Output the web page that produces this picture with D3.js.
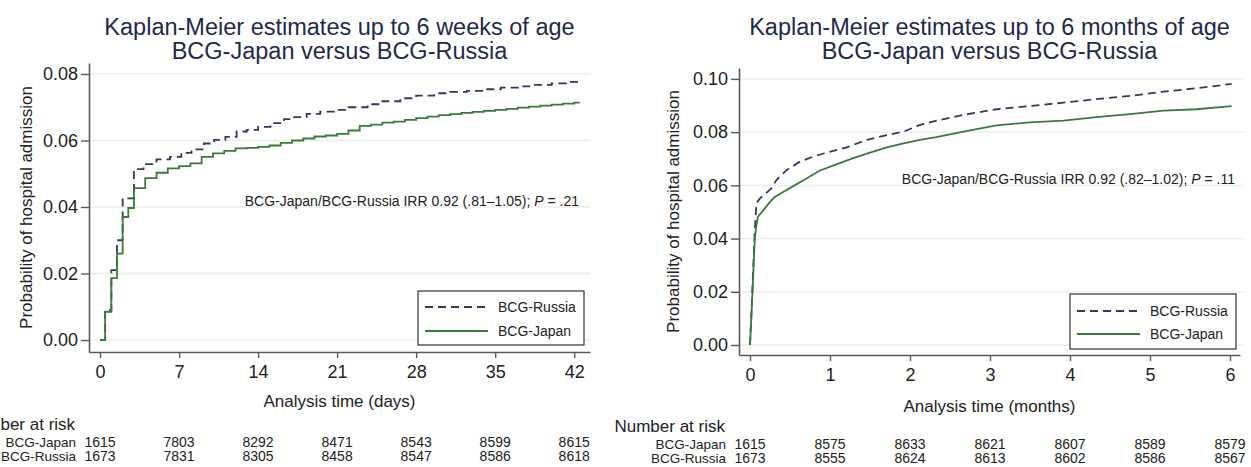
<!DOCTYPE html>
<html><head><meta charset="utf-8">
<script src="https://cdn.jsdelivr.net/npm/d3@7"></script>
<style>
body{margin:0;background:#fff}
svg{display:block}
text{font-family:"Liberation Sans",Arial,Helvetica,sans-serif}
</style>
</head><body>
<svg id="chart" width="1251" height="467"></svg>
<script>
// ---------- data ----------
const titleWeeks = ["Kaplan-Meier estimates up to 6 weeks of age", "BCG-Japan versus BCG-Russia"];
const titleMonths = ["Kaplan-Meier estimates up to 6 months of age", "BCG-Japan versus BCG-Russia"];
const seriesNames = ["BCG-Russia", "BCG-Japan"];
const yTitle = "Probability of hospital admission";
const xTitleDays = "Analysis time (days)";
const xTitleMonths = "Analysis time (months)";
const annotDays = ["BCG-Japan/BCG-Russia IRR 0.92 (.81\u20131.05); ", "P", " = .21"];
const annotMonths = ["BCG-Japan/BCG-Russia IRR 0.92 (.82\u20131.02); ", "P", " = .11"];

const daysTicks = [0, 7, 14, 21, 28, 35, 42];
const daysYTicks = [0, 0.02, 0.04, 0.06, 0.08];
const monthsTicks = [0, 1, 2, 3, 4, 5, 6];
const monthsYTicks = [0, 0.02, 0.04, 0.06, 0.08, 0.10];

// [time, probability]
const daysJapan = [[0,0],[0.45,0.0085],[1,0.0186],[1.5,0.026],[2,0.037],[2.5,0.0397],[3,0.0457],[4,0.0487],[5,0.0503],[6,0.0516],[7,0.0523],[8,0.0531],[9,0.0551],[10,0.0561],[11,0.0569],[12,0.0576],[13,0.0578],[14,0.0581],[15,0.0585],[16,0.0593],[17,0.06],[18,0.0606],[19,0.0612],[20,0.0615],[21,0.062],[22,0.063],[23,0.0644],[24,0.0648],[25,0.0654],[26,0.0657],[27,0.0662],[28,0.0667],[29,0.0672],[30,0.0676],[31,0.0679],[32,0.0683],[33,0.0686],[34,0.0689],[35,0.0692],[36,0.0695],[37,0.0699],[38,0.0702],[39,0.0705],[40,0.0708],[41,0.0711],[42,0.0714],[42.5,0.0714]];
const daysRussia = [[0,0],[0.45,0.009],[1,0.021],[1.5,0.030],[2,0.0426],[3,0.0514],[3.85,0.0529],[5,0.0543],[6.2,0.0551],[7.2,0.0563],[8.1,0.0573],[9.2,0.0591],[10.1,0.0602],[11.1,0.0611],[12.1,0.0627],[13,0.0632],[14,0.0641],[15.1,0.0652],[16.3,0.0664],[17.2,0.067],[18.3,0.068],[19.5,0.0687],[20.7,0.0692],[22,0.07],[23.7,0.0709],[25,0.0718],[26.6,0.0727],[28,0.0735],[29.6,0.0742],[31,0.0746],[32.5,0.0749],[34,0.0754],[35.5,0.0759],[37,0.0763],[38.4,0.0767],[40,0.0772],[41.3,0.0776],[42.5,0.0779]];
const monthsJapan = [[0,0],[0.015,0.009],[0.03,0.019],[0.045,0.03],[0.06,0.04],[0.08,0.045],[0.1,0.0482],[0.17,0.0508],[0.25,0.0538],[0.31,0.0556],[0.42,0.0576],[0.54,0.0597],[0.71,0.0627],[0.875,0.0656],[1.08,0.0679],[1.29,0.0702],[1.5,0.0723],[1.71,0.0743],[1.92,0.0758],[2.125,0.0771],[2.33,0.0781],[2.67,0.0802],[3.08,0.0825],[3.5,0.0837],[3.92,0.0843],[4.33,0.0856],[4.75,0.0868],[5.17,0.0881],[5.58,0.0886],[6.02,0.0898]];
const monthsRussia = [[0,0],[0.015,0.01],[0.03,0.021],[0.045,0.032],[0.06,0.043],[0.08,0.0533],[0.125,0.0551],[0.27,0.0589],[0.33,0.062],[0.46,0.0658],[0.625,0.0689],[0.79,0.0708],[0.96,0.0723],[1.21,0.0743],[1.46,0.0771],[1.71,0.0789],[1.92,0.0802],[2.125,0.0827],[2.33,0.0843],[2.67,0.0865],[3.08,0.0886],[3.5,0.0898],[3.92,0.0911],[4.33,0.0924],[4.75,0.0936],[5.17,0.0952],[5.58,0.0965],[6.02,0.0981]];

const riskLabel = "Number at risk";
const riskDaysJapan = [1615, 7803, 8292, 8471, 8543, 8599, 8615];
const riskDaysRussia = [1673, 7831, 8305, 8458, 8547, 8586, 8618];
const riskMonthsJapan = [1615, 8575, 8633, 8621, 8607, 8589, 8579];
const riskMonthsRussia = [1673, 8555, 8624, 8613, 8602, 8586, 8567];

// ---------- styles ----------
const C_RUS = "#323b58", C_JAP = "#3a7a3a", C_TITLE = "#1f2a4a", C_AXIS = "#5a5a5a", C_TEXT = "#222";
const svg = d3.select("#chart");

function panel(o) {
  const g = svg.append("g");
  const x = d3.scaleLinear().domain(o.xDomain).range(o.xRange);
  const y = d3.scaleLinear().domain(o.yDomain).range(o.yRange);
  const cx = (o.xRange[0] + o.xRange[1]) / 2;

  // title
  g.append("g").selectAll("text").data(o.title).join("text")
    .attr("x", cx).attr("y", (d, i) => o.titleY[i])
    .attr("text-anchor", "middle").attr("font-size", 23.5).attr("fill", C_TITLE)
    .text(d => d);

  // grid
  g.append("g").selectAll("line").data(o.yTicks).join("line")
    .attr("x1", o.xRange[0]).attr("x2", o.gridRight)
    .attr("y1", d => y(d)).attr("y2", d => y(d))
    .attr("stroke", "#ececec").attr("stroke-width", 1.3);

  // annotation
  const an = g.append("text").attr("x", o.annotX).attr("y", o.annotY)
    .attr("text-anchor", "end").attr("font-size", 14).attr("fill", C_TEXT);
  an.selectAll("tspan").data(o.annot).join("tspan")
    .attr("font-style", (d, i) => i === 1 ? "italic" : "normal").text(d => d);

  // curves
  const line = d3.line().x(d => x(d[0])).y(d => y(d[1])).curve(o.curve);
  g.append("path").datum(o.russia).attr("d", line).attr("fill", "none")
    .attr("stroke", C_RUS).attr("stroke-width", 1.8).attr("stroke-dasharray", "8,5");
  g.append("path").datum(o.japan).attr("d", line).attr("fill", "none")
    .attr("stroke", C_JAP).attr("stroke-width", 1.8);

  // axes
  const ya = g.append("g").attr("transform", `translate(${o.xRange[0]},0)`)
    .call(d3.axisLeft(y).tickValues(o.yTicks).tickFormat(d3.format(".2f"))
      .tickSize(8).tickSizeOuter(0).tickPadding(3));
  const xa = g.append("g").attr("transform", `translate(0,${o.yRange[0]})`)
    .call(d3.axisBottom(x).tickValues(o.xTicks).tickFormat(d3.format("d"))
      .tickSize(6).tickSizeOuter(0).tickPadding(7));
  [ya, xa].forEach(a => {
    a.select(".domain").attr("stroke", C_AXIS).attr("stroke-width", 1.6);
    a.selectAll(".tick line").attr("stroke", C_AXIS).attr("stroke-width", 1.4);
    a.selectAll(".tick text").attr("fill", C_TEXT).attr("font-size", 18)
      .attr("font-family", '"Liberation Sans",Arial,sans-serif');
  });

  // axis titles
  g.append("text").attr("x", cx).attr("y", o.xTitleY).attr("text-anchor", "middle")
    .attr("font-size", 17).attr("fill", C_TEXT).text(o.xTitle);
  g.append("text")
    .attr("transform", `translate(${o.yTitleX},${(o.yRange[0] + o.yRange[1]) / 2}) rotate(-90)`)
    .attr("text-anchor", "middle").attr("font-size", 17).attr("fill", C_TEXT).text(yTitle);

  // legend
  const L = o.legend;
  const lg = g.append("g");
  lg.append("rect").attr("x", L.x).attr("y", L.y).attr("width", L.w).attr("height", L.h)
    .attr("fill", "#fff").attr("stroke", "#333").attr("stroke-width", 1.2);
  const items = [{name: seriesNames[0], c: C_RUS, dash: "8,5"}, {name: seriesNames[1], c: C_JAP, dash: null}];
  items.forEach((it, i) => {
    const yy = L.y + L.rows[i];
    lg.append("line").attr("x1", L.x + 7).attr("x2", L.x + 70).attr("y1", yy).attr("y2", yy)
      .attr("stroke", it.c).attr("stroke-width", 1.8).attr("stroke-dasharray", it.dash);
    lg.append("text").attr("x", L.x + 80).attr("y", yy + 5).attr("font-size", 14)
      .attr("fill", C_TEXT).text(it.name);
  });

  // number at risk
  const x0 = x(o.xTicks[0]);
  g.append("text").attr("x", x0 - 25).attr("y", o.riskY[0]).attr("text-anchor", "end")
    .attr("font-size", 17).attr("fill", C_TEXT).text(riskLabel);
  [[seriesNames[1], o.riskJ], [seriesNames[0], o.riskR]].forEach((r, i) => {
    const yy = o.riskY[i + 1];
    g.append("text").attr("x", x0 - 24).attr("y", yy).attr("text-anchor", "end")
      .attr("font-size", 13.5).attr("fill", C_TEXT).text(r[0]);
    g.append("g").selectAll("text").data(r[1]).join("text")
      .attr("x", (d, k) => x(o.xTicks[k])).attr("y", yy).attr("text-anchor", "middle")
      .attr("font-size", 14).attr("fill", C_TEXT).text(d => d);
  });
}

panel({
  title: titleWeeks, titleY: [35, 59],
  xDomain: [-0.98, 43.4], xRange: [89, 590],
  yDomain: [-0.0036, 0.0833], yRange: [352, 63], gridRight: 590,
  xTicks: daysTicks, yTicks: daysYTicks,
  russia: daysRussia, japan: daysJapan, curve: d3.curveStepAfter,
  annot: annotDays, annotX: 579, annotY: 206,
  xTitle: xTitleDays, xTitleY: 407, yTitleX: 32,
  legend: {x: 418, y: 291, w: 166, h: 54, rows: [16, 40]},
  riskJ: riskDaysJapan, riskR: riskDaysRussia, riskY: [430, 447, 461]
});

panel({
  title: titleMonths, titleY: [35, 59],
  xDomain: [-0.1375, 6.125], xRange: [739, 1240],
  yDomain: [-0.00376, 0.1041], yRange: [355, 68], gridRight: 1243,
  xTicks: monthsTicks, yTicks: monthsYTicks,
  russia: monthsRussia, japan: monthsJapan, curve: d3.curveLinear,
  annot: annotMonths, annotX: 1235, annotY: 184,
  xTitle: xTitleMonths, xTitleY: 412, yTitleX: 679,
  legend: {x: 1070, y: 294, w: 166, h: 55, rows: [17, 40]},
  riskJ: riskMonthsJapan, riskR: riskMonthsRussia, riskY: [432, 449, 463]
});
</script>
</body></html>
